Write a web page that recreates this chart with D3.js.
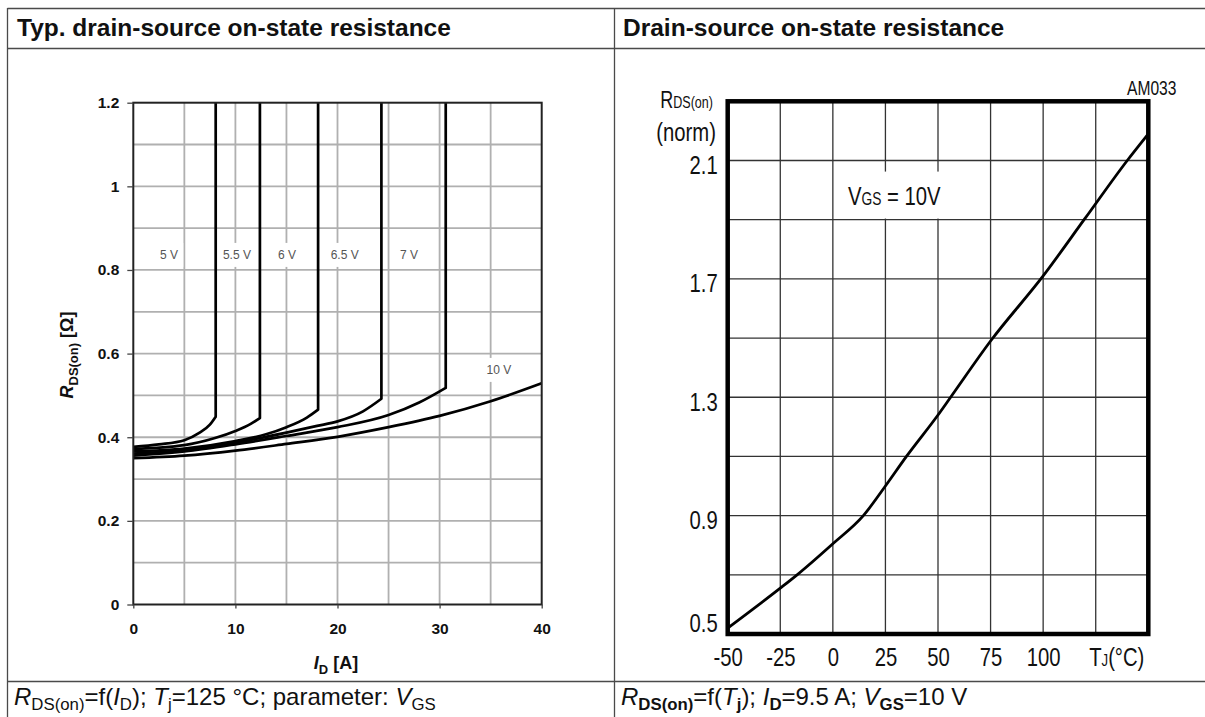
<!DOCTYPE html>
<html>
<head>
<meta charset="utf-8">
<script src="https://d3js.org/d3.v7.min.js"></script>
<style>
  body { margin: 0; background: #fff; }
  text { font-family: "Liberation Sans", Arial, sans-serif; fill: #111; }
</style>
</head>
<body>
<script>
  var width = 1205;
  var height = 717;

  // ---- left chart: RDS(on) = f(ID), Tj = 125 C, parameter VGS
  var idTicks = [0, 10, 20, 30, 40];
  var rTicks = [0, 0.2, 0.4, 0.6, 0.8, 1, 1.2];
  var vgsNames = ["5 V", "5.5 V", "6 V", "6.5 V", "7 V", "10 V"];
  var vgsLabelI = [3.5, 10.15, 15.05, 20.7, 27.0, 35.8];
  var vgsLabelR = [0.836, 0.836, 0.836, 0.836, 0.836, 0.561];
  // [ID (A), RDS(on) (ohm)]; curves that go vertical end at their knee current
  var curve5V  = [[0, 0.377], [2.5, 0.383], [5, 0.393], [6.5, 0.411], [7.5, 0.430], [8.07, 0.449]];
  var curve55V = [[0, 0.372], [5, 0.381], [8, 0.398], [10, 0.415], [11.5, 0.432], [12.4, 0.446]];
  var curve6V  = [[0, 0.366], [5, 0.373], [10, 0.391], [13, 0.407], [15, 0.424], [17, 0.447], [18.1, 0.466]];
  var curve65V = [[0, 0.361], [5, 0.369], [10, 0.387], [15, 0.411], [18, 0.427], [20, 0.438], [22.5, 0.462], [24.3, 0.492]];
  var curve7V  = [[0, 0.356], [5, 0.366], [10, 0.383], [15, 0.403], [20, 0.424], [25, 0.453], [28, 0.483], [30.6, 0.518]];
  var curve10V = [[0, 0.350], [5, 0.356], [10, 0.368], [15, 0.384], [20, 0.401], [25, 0.424], [30, 0.451], [35, 0.486], [40, 0.529]];
  var vgsCurves = [curve5V, curve55V, curve6V, curve65V, curve7V, curve10V];
  var goesVertical = [true, true, true, true, true, false];

  // ---- right chart: normalised RDS(on) = f(Tj)
  var tjTicks = [-50, -25, 0, 25, 50, 75, 100];
  var normTicks = [0.5, 0.9, 1.3, 1.7, 2.1];
  var tjValues = [-50, -25, -17, 0, 14.5, 25, 35, 50, 56, 75, 100, 120, 140, 150];
  var rNorm    = [0.52, 0.655, 0.70, 0.805, 0.90, 1.0, 1.10, 1.24, 1.30, 1.49, 1.71, 1.905, 2.10, 2.19];

  var svg = d3.select("body").append("svg")
    .attr("width", width)
    .attr("height", height);

  // text with italic / subscript pieces
  function rich(g, x, y, parts, size) {
    var t = g.append("text").attr("x", x).attr("y", y).style("font-size", size + "px");
    var down = 0;
    parts.forEach(function(p) {
      var s = t.append("tspan").text(p.t);
      var shift = p.sub ? size * p.sub : 0;
      if (shift !== down) { s.attr("dy", shift - down); down = shift; }
      if (p.sz) s.style("font-size", (size * p.sz) + "px");
      if (p.i) s.style("font-style", "italic");
      if (p.b) s.style("font-weight", "bold");
    });
    return t;
  }

  // right chart lettering is a condensed face: squeeze the sans horizontally
  var sx = 0.78;
  function narrow(g, x, y) {
    return g.append("g").attr("transform", "translate(" + x + "," + y + ") scale(" + sx + ",1)");
  }

  // ---- table frame
  var tableCol = "#4a4a4a";
  var frame = svg.append("g").attr("stroke", tableCol).attr("stroke-width", 1.3);
  frame.append("line").attr("x1", 7.5).attr("x2", width).attr("y1", 8.5).attr("y2", 8.5);
  frame.append("line").attr("x1", 7.5).attr("x2", width).attr("y1", 48.5).attr("y2", 48.5);
  frame.append("line").attr("x1", 7.5).attr("x2", width).attr("y1", 681.5).attr("y2", 681.5);
  frame.append("line").attr("x1", 7.5).attr("x2", 7.5).attr("y1", 8).attr("y2", height);
  frame.append("line").attr("x1", 614.5).attr("x2", 614.5).attr("y1", 8).attr("y2", height);

  svg.append("text").attr("x", 17).attr("y", 36)
    .style("font-size", "24.5px").style("font-weight", "bold")
    .text("Typ. drain-source on-state resistance");
  svg.append("text").attr("x", 623).attr("y", 36)
    .style("font-size", "24.5px").style("font-weight", "bold")
    .text("Drain-source on-state resistance");

  rich(svg, 14, 705, [
    {t: "R", i: 1}, {t: "DS(on)", sub: 0.2, sz: 0.7}, {t: "=f("}, {t: "I", i: 1},
    {t: "D", sub: 0.2, sz: 0.7}, {t: "); "}, {t: "T", i: 1}, {t: "j", sub: 0.2, sz: 0.7},
    {t: "=125 \u00b0C; parameter: "}, {t: "V", i: 1}, {t: "GS", sub: 0.2, sz: 0.7}
  ], 24);
  rich(svg, 621, 705, [
    {t: "R", i: 1}, {t: "DS(on)", sub: 0.2, sz: 0.7, b: 1}, {t: "=f("}, {t: "T", i: 1},
    {t: "j", sub: 0.2, sz: 0.7, b: 1}, {t: "); "}, {t: "I", i: 1}, {t: "D", sub: 0.2, sz: 0.7, b: 1},
    {t: "=9.5 A; "}, {t: "V", i: 1}, {t: "GS", sub: 0.2, sz: 0.7, b: 1}, {t: "=10 V"}
  ], 24);

  // ================= left chart =================
  var x = d3.scaleLinear().domain([0, 40]).range([133.3, 541.7]);
  var y = d3.scaleLinear().domain([0, 1.2]).range([604.5, 102.7]);
  var left = svg.append("g");

  left.selectAll(".vgrid").data(d3.range(5, 40, 5)).enter()
    .append("line")
    .attr("x1", function(d) { return x(d); }).attr("x2", function(d) { return x(d); })
    .attr("y1", y(0)).attr("y2", y(1.2))
    .style("stroke", "#b0b0b0").style("stroke-width", 1.8);
  left.selectAll(".hgrid").data(d3.range(1, 12).map(function(k) { return k / 10; })).enter()
    .append("line")
    .attr("x1", x(0)).attr("x2", x(40))
    .attr("y1", function(d) { return y(d); }).attr("y2", function(d) { return y(d); })
    .style("stroke", "#b0b0b0").style("stroke-width", 1.8);

  // voltage labels sit on white patches that cut the grid
  var labs = left.selectAll(".vlab").data(vgsNames).enter().append("g");
  labs.append("rect")
    .attr("x", function(d, i) { return x(vgsLabelI[i]) - d.length * 3.4 - 4; })
    .attr("width", function(d) { return d.length * 6.8 + 8; })
    .attr("y", function(d, i) { return y(vgsLabelR[i]) - 12; })
    .attr("height", 24)
    .style("fill", "#fff");
  labs.append("text")
    .attr("x", function(d, i) { return x(vgsLabelI[i]); })
    .attr("y", function(d, i) { return y(vgsLabelR[i]) + 4.5; })
    .attr("text-anchor", "middle")
    .style("font-size", "12px").style("fill", "#555")
    .text(function(d) { return d; });

  var smooth = d3.line()
    .x(function(d) { return x(d[0]); })
    .y(function(d) { return y(d[1]); })
    .curve(d3.curveMonotoneX);

  vgsCurves.forEach(function(c, i) {
    var p = smooth(c);
    if (goesVertical[i]) {
      var knee = c[c.length - 1];
      p += "L" + x(knee[0]) + "," + y(1.2);
    }
    left.append("path").attr("d", p)
      .style("fill", "none").style("stroke", "#000")
      .style("stroke-width", 2.7).style("stroke-linejoin", "round");
  });

  left.append("rect")
    .attr("x", x(0)).attr("y", y(1.2))
    .attr("width", x(40) - x(0)).attr("height", y(0) - y(1.2))
    .style("fill", "none").style("stroke", "#222").style("stroke-width", 2);

  var yAxis = left.append("g").attr("transform", "translate(" + x(0) + ",0)")
    .call(d3.axisLeft(y).tickValues(rTicks).tickSize(6).tickPadding(8).tickFormat(String));
  var xAxis = left.append("g").attr("transform", "translate(0," + y(0) + ")")
    .call(d3.axisBottom(x).tickValues(idTicks).tickSize(4).tickPadding(14).tickFormat(String));
  [yAxis, xAxis].forEach(function(a) {
    a.select(".domain").remove();
    a.selectAll("line").style("stroke", "#444").style("stroke-width", 1.3);
    a.selectAll("text").style("font-size", "15.5px").style("font-weight", "bold")
      .style("font-family", "'Liberation Sans', Arial, sans-serif").style("fill", "#111");
  });

  rich(left, 0, 0, [
    {t: "R", i: 1, b: 1}, {t: "DS(on)", sub: 0.25, sz: 0.72, b: 1}, {t: " [\u03a9]", b: 1}
  ], 18)
    .attr("text-anchor", "middle")
    .attr("transform", "translate(73,355) rotate(-90)");
  rich(left, 336, 669, [
    {t: "I", i: 1, b: 1}, {t: "D", sub: 0.25, sz: 0.72, b: 1}, {t: " [A]", b: 1}
  ], 18)
    .attr("text-anchor", "middle");

  // ================= right chart =================
  var x2 = d3.scaleLinear().domain([-50, 150]).range([727.7, 1148.3]);
  var y2 = d3.scaleLinear().domain([0.5, 2.3]).range([634, 101.3]);
  var right = svg.append("g");

  right.selectAll(".vgrid").data(d3.range(-25, 150, 25)).enter()
    .append("line")
    .attr("x1", function(d) { return x2(d); }).attr("x2", function(d) { return x2(d); })
    .attr("y1", y2(0.5)).attr("y2", y2(2.3))
    .style("stroke", "#333").style("stroke-width", 1.3);
  right.selectAll(".hgrid").data(d3.range(7, 23, 2).map(function(k) { return k / 10; })).enter()
    .append("line")
    .attr("x1", x2(-50)).attr("x2", x2(150))
    .attr("y1", function(d) { return y2(d); }).attr("y2", function(d) { return y2(d); })
    .style("stroke", "#333").style("stroke-width", 1.3);

  var vg = narrow(right, 848, 205);
  var vgs = rich(vg, 0, 0, [{t: "V"}, {t: "GS", sz: 0.68}, {t: " = 10V"}], 26);
  var bb = vgs.node().getBBox();
  vg.insert("rect", "text")
    .attr("x", bb.x - 10).attr("y", bb.y - 10)
    .attr("width", bb.width + 16).attr("height", bb.height + 18)
    .style("fill", "#fff");

  var tLine = d3.line()
    .x(function(d, i) { return x2(tjValues[i]); })
    .y(function(d) { return y2(d); })
    .curve(d3.curveMonotoneX);
  right.append("path").attr("d", tLine(rNorm))
    .style("fill", "none").style("stroke", "#000").style("stroke-width", 2.8);

  right.append("rect")
    .attr("x", x2(-50)).attr("y", y2(2.3))
    .attr("width", x2(150) - x2(-50)).attr("height", y2(0.5) - y2(2.3))
    .style("fill", "none").style("stroke", "#000").style("stroke-width", 4.5);

  var yAxis2 = right.append("g").attr("transform", "translate(" + x2(-50) + ",0)")
    .call(d3.axisLeft(y2).tickValues(normTicks).tickSize(0).tickPadding(10).tickFormat(String));
  yAxis2.selectAll("text")
    .attr("x", -10 / sx)
    .attr("dy", function(d) { return d === 0.5 ? "-0.1em" : "0.5em"; });
  var xAxis2 = right.append("g").attr("transform", "translate(0," + y2(0.5) + ")")
    .call(d3.axisBottom(x2).tickValues(tjTicks).tickSize(0).tickPadding(13.5).tickFormat(String));
  [yAxis2, xAxis2].forEach(function(a) {
    a.select(".domain").remove();
    a.selectAll("text").attr("transform", "scale(" + sx + ",1)")
      .style("font-size", "26px").style("fill", "#111")
      .style("font-family", "'Liberation Sans', Arial, sans-serif");
  });

  rich(narrow(right, x2(135), 666), 0, 0, [{t: "T"}, {t: "J", sz: 0.65}, {t: "(\u00b0C)"}], 26)
    .attr("text-anchor", "middle");
  rich(narrow(right, 713, 108), 0, 0, [{t: "R"}, {t: "DS(on)", sz: 0.7}], 23)
    .attr("text-anchor", "end");
  narrow(right, 716, 141).append("text")
    .attr("text-anchor", "end").style("font-size", "26px").text("(norm)");
  narrow(right, 1127, 95).append("text")
    .style("font-size", "20px").text("AM033");
</script>
</body>
</html>
